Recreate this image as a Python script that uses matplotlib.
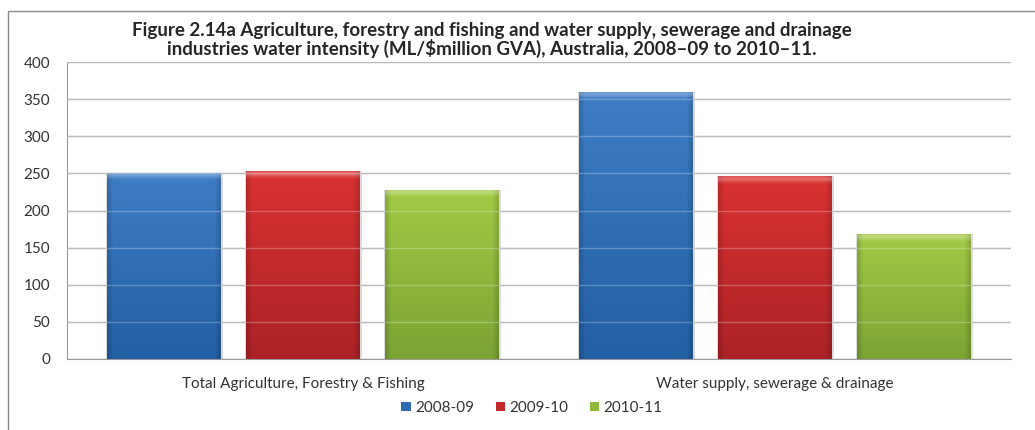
import numpy as np
import matplotlib
matplotlib.use('Agg')
import matplotlib.pyplot as plt
from matplotlib.patches import Rectangle, Patch
from matplotlib.colors import to_rgb

plt.rcParams['font.family'] = ['Lato', 'DejaVu Sans']

categories = ['Total Agriculture, Forestry & Fishing', 'Water supply, sewerage & drainage']
series = ['2008-09', '2009-10', '2010-11']
v_2008 = [251, 360]
v_2009 = [253, 246]
v_2010 = [228, 168]
values = [v_2008, v_2009, v_2010]

# top colour, bottom colour for each series
tops = ['#3f7ec6', '#da3232', '#a3cb45']
bottoms = ['#225fa4', '#ab2226', '#7ba334']
legend_cols = ['#2f6db2', '#c42a2c', '#8fb83d']

fig = plt.figure(figsize=(10.35, 4.3), dpi=100)
W, H = 1035, 430
ax = fig.add_axes([67 / W, 1 - 359 / H, (1011 - 67) / W, (359 - 62) / H])

# outer chart frame
fig.patches.append(Rectangle((8 / W, -0.1), 1.2, 1 - 11 / H + 0.1, transform=fig.transFigure,
                             fill=False, edgecolor='#8c8c8c', lw=1.0, zorder=0))

x = np.arange(len(categories))
offs = [-0.2945, 0, 0.2945]
wid = 0.24

for i, s in enumerate(series):
    bars = ax.bar(x + offs[i], values[i], wid, color=legend_cols[i], zorder=2, edgecolor='none')
    t = np.array(to_rgb(tops[i]))
    b = np.array(to_rgb(bottoms[i]))
    for p in bars:
        x0 = p.get_x()
        h = p.get_height()
        ny, nx = 300, 60
        fy = np.linspace(0, 1, ny)[:, None, None]
        img = t * (1 - fy) + b * fy
        img = np.broadcast_to(img, (ny, nx, 3)).copy()
        # darker sides
        xx = np.linspace(-1, 1, nx)
        side = 1 - 0.15 * np.clip(np.abs(xx) - 0.9, 0, None) / 0.1
        img *= side[None, :, None]
        # soft light top band
        px = h * 0.7425
        yy = np.linspace(0, px, ny)
        glow = 0.28 * np.exp(-((yy - 2.5) / 3.0) ** 2)
        img = img * (1 - glow[:, None, None]) + glow[:, None, None]
        img = np.clip(img, 0, 1)
        im = ax.imshow(img, extent=(x0, x0 + wid, 0, h), aspect='auto', zorder=3,
                       interpolation='bilinear')
        im.set_clip_path(p)
        # soft shadow
        ax.add_patch(Rectangle((x0 - 0.003, -1.5), wid + 0.009, h + 1.5, facecolor='#c4c4c4',
                               edgecolor='none', alpha=0.6, zorder=1.5))

ax.set_xlim(-0.5, 1.5)
ax.set_ylim(0, 400)
ax.set_yticks(range(0, 401, 50))
ax.yaxis.grid(True, color='#a6a6a6', lw=1.0, zorder=1)
ax.set_axisbelow(True)
# faint gridlines showing through the bars
for yv in range(50, 401, 50):
    ax.axhline(yv, color='white', lw=1.0, alpha=0.25, zorder=4)
ax.set_xticks(x)
ax.set_xticklabels(categories)
ax.tick_params(axis='both', length=0, labelsize=11, colors='#333333')
ax.tick_params(axis='x', pad=13)
ax.tick_params(axis='y', pad=12)
for sp in ['top', 'right']:
    ax.spines[sp].set_visible(False)
ax.spines['left'].set_color('#9a9a9a')
ax.spines['bottom'].set_color('#9a9a9a')

fig.text(492 / W, 1 - 40 / H,
         'Figure 2.14a Agriculture, forestry and fishing and water supply, sewerage and drainage\n'
         'industries water intensity (ML/$million GVA), Australia, 2008\u201309 to 2010\u201311.',
         ha='center', va='center', fontsize=13.5, fontweight='bold', color='#262626',
         linespacing=1.05)

handles = [Patch(facecolor=legend_cols[i], edgecolor='none') for i in range(3)]
fig.legend(handles, series, loc='center', bbox_to_anchor=(532 / W, 1 - 408 / H), ncol=3,
           frameon=False, fontsize=11, handlelength=0.6, handleheight=0.6,
           handletextpad=0.3, columnspacing=1.4, labelcolor='#333333')

fig.savefig('out.png', dpi=100)
